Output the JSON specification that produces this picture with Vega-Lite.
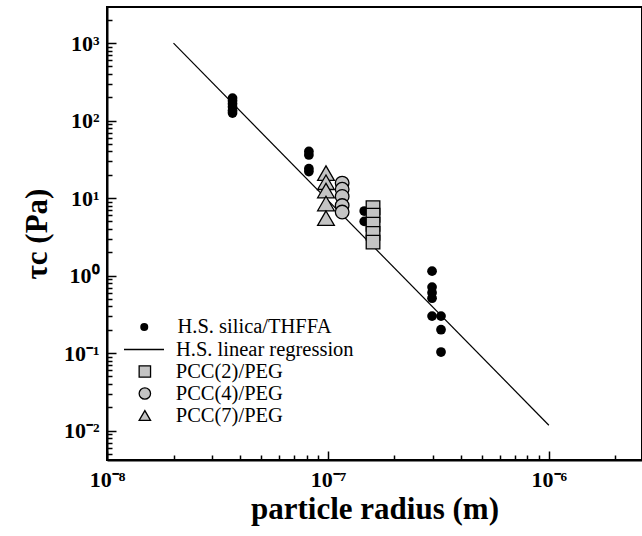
{
  "$schema": "https://vega.github.io/schema/vega-lite/v6.json",
  "width": 535,
  "height": 453,
  "autosize": {"type": "none"},
  "padding": {"left": 107, "top": 7, "right": 0, "bottom": 76},
  "background": "white",
  "config": {
    "view": {"stroke": "black", "strokeWidth": 2},
    "font": "Liberation Serif",
    "axis": {
      "grid": false,
      "domainColor": "black",
      "domainWidth": 2,
      "tickColor": "black",
      "tickWidth": 1.5,
      "labelFont": "Liberation Serif",
      "labelFontSize": 22,
      "labelFontWeight": "bold",
      "labelColor": "black",
      "titleFont": "Liberation Serif",
      "titleFontWeight": "bold",
      "titleColor": "black",
      "titleFontSize": 31,
      "labelOverlap": false,
      "labelFlush": false,
      "labelBound": false
    },
    "legend": {
      "orient": "none",
      "padding": 0,
      "labelFont": "Liberation Serif",
      "labelFontSize": 20.5,
      "labelFontWeight": "normal",
      "labelColor": "black",
      "labelLimit": 400,
      "rowPadding": 1
    }
  },
  "datasets": {
    "reg": [
      {"r": 2e-8, "tau": 1000, "line": "H.S. linear regression"},
      {"r": 1e-6, "tau": 0.0117, "line": "H.S. linear regression"}
    ],
    "silica": [
      {"r": 3.7e-8, "tau": 195, "s": "H.S. silica/THFFA"},
      {"r": 3.7e-8, "tau": 180, "s": "H.S. silica/THFFA"},
      {"r": 3.7e-8, "tau": 165, "s": "H.S. silica/THFFA"},
      {"r": 3.7e-8, "tau": 150, "s": "H.S. silica/THFFA"},
      {"r": 3.7e-8, "tau": 135, "s": "H.S. silica/THFFA"},
      {"r": 3.7e-8, "tau": 125, "s": "H.S. silica/THFFA"},
      {"r": 8.2e-8, "tau": 40, "s": "H.S. silica/THFFA"},
      {"r": 8.2e-8, "tau": 36, "s": "H.S. silica/THFFA"},
      {"r": 8.2e-8, "tau": 24, "s": "H.S. silica/THFFA"},
      {"r": 8.2e-8, "tau": 22, "s": "H.S. silica/THFFA"},
      {"r": 1.46e-7, "tau": 6.8, "s": "H.S. silica/THFFA"},
      {"r": 1.46e-7, "tau": 5.0, "s": "H.S. silica/THFFA"},
      {"r": 2.96e-7, "tau": 1.14, "s": "H.S. silica/THFFA"},
      {"r": 2.96e-7, "tau": 0.71, "s": "H.S. silica/THFFA"},
      {"r": 2.96e-7, "tau": 0.6, "s": "H.S. silica/THFFA"},
      {"r": 2.96e-7, "tau": 0.51, "s": "H.S. silica/THFFA"},
      {"r": 2.96e-7, "tau": 0.3, "s": "H.S. silica/THFFA"},
      {"r": 3.25e-7, "tau": 0.3, "s": "H.S. silica/THFFA"},
      {"r": 3.25e-7, "tau": 0.2, "s": "H.S. silica/THFFA"},
      {"r": 3.25e-7, "tau": 0.103, "s": "H.S. silica/THFFA"}
    ],
    "pcc": [
      {"r": 1.6e-7, "tau": 7.5, "p": "PCC(2)/PEG"},
      {"r": 1.6e-7, "tau": 6.0, "p": "PCC(2)/PEG"},
      {"r": 1.6e-7, "tau": 4.6, "p": "PCC(2)/PEG"},
      {"r": 1.6e-7, "tau": 3.5, "p": "PCC(2)/PEG"},
      {"r": 1.6e-7, "tau": 2.7, "p": "PCC(2)/PEG"},
      {"r": 1.16e-7, "tau": 15.6, "p": "PCC(4)/PEG"},
      {"r": 1.16e-7, "tau": 13, "p": "PCC(4)/PEG"},
      {"r": 1.16e-7, "tau": 10.5, "p": "PCC(4)/PEG"},
      {"r": 1.16e-7, "tau": 8, "p": "PCC(4)/PEG"},
      {"r": 1.16e-7, "tau": 6.6, "p": "PCC(4)/PEG"},
      {"r": 9.8e-8, "tau": 21, "p": "PCC(7)/PEG"},
      {"r": 9.8e-8, "tau": 16, "p": "PCC(7)/PEG"},
      {"r": 9.8e-8, "tau": 12.5, "p": "PCC(7)/PEG"},
      {"r": 9.8e-8, "tau": 8.5, "p": "PCC(7)/PEG"},
      {"r": 9.8e-8, "tau": 5.5, "p": "PCC(7)/PEG"}
    ]
  },
  "layer": [
    {
      "data": {"name": "reg"},
      "mark": {"type": "line", "strokeWidth": 1.2},
      "encoding": {
        "x": {
          "field": "r", "type": "quantitative",
          "scale": {"type": "log", "domain": [1e-8, 2.64e-6], "nice": false},
          "axis": {
            "title": "particle radius (m)",
            "values": [1e-8, 2e-8, 3e-8, 4e-8, 5e-8, 6e-8, 7e-8, 8e-8, 9e-8, 1e-7, 2e-7, 3e-7, 4e-7, 5e-7, 6e-7, 7e-7, 8e-7, 9e-7, 1e-6, 2e-6],
            "labelExpr": "abs(log(datum.value)/LN10 - round(log(datum.value)/LN10)) < 0.01 ? '10' + (round(log(datum.value)/LN10) < 0 ? '⁻' : '') + substring('⁰¹²³⁴⁵⁶⁷⁸⁹', abs(round(log(datum.value)/LN10)), abs(round(log(datum.value)/LN10)) + 1) : ''",
            "tickSize": {"condition": {"test": "abs(log(datum.value)/LN10 - round(log(datum.value)/LN10)) < 0.01", "value": -9}, "value": -5},
            "labelPadding": 18,
            "titlePadding": 0
          }
        },
        "y": {
          "field": "tau", "type": "quantitative",
          "scale": {"type": "log", "domain": [0.00417, 2920], "nice": false},
          "axis": {
            "title": "τc (Pa)",
            "values": [0.005, 0.006, 0.007, 0.008, 0.009, 0.01, 0.02, 0.03, 0.04, 0.05, 0.06, 0.07, 0.08, 0.09, 0.1, 0.2, 0.3, 0.4, 0.5, 0.6, 0.7, 0.8, 0.9, 1, 2, 3, 4, 5, 6, 7, 8, 9, 10, 20, 30, 40, 50, 60, 70, 80, 90, 100, 200, 300, 400, 500, 600, 700, 800, 900, 1000, 2000],
            "labelExpr": "abs(log(datum.value)/LN10 - round(log(datum.value)/LN10)) < 0.01 ? '10' + (round(log(datum.value)/LN10) < 0 ? '⁻' : '') + substring('⁰¹²³⁴⁵⁶⁷⁸⁹', abs(round(log(datum.value)/LN10)), abs(round(log(datum.value)/LN10)) + 1) : ''",
            "tickSize": {"condition": {"test": "abs(log(datum.value)/LN10 - round(log(datum.value)/LN10)) < 0.01", "value": -9}, "value": -5},
            "labelPadding": 17,
            "titlePadding": 10
          }
        },
        "stroke": {
          "field": "line", "type": "nominal",
          "scale": {"range": ["black"]},
          "legend": {
            "title": null,
            "symbolType": "stroke",
            "symbolSize": 1600,
            "symbolStrokeWidth": 1.3,
            "legendX": 16,
            "legendY": 321.5,
            "labelOffset": 11
          }
        }
      }
    },
    {
      "data": {"name": "silica"},
      "mark": {"type": "circle", "size": 95, "opacity": 1, "strokeWidth": 0},
      "encoding": {
        "x": {"field": "r", "type": "quantitative"},
        "y": {"field": "tau", "type": "quantitative"},
        "fill": {
          "field": "s", "type": "nominal",
          "scale": {"range": ["black"]},
          "legend": {
            "title": null,
            "symbolType": "circle",
            "symbolSize": 64,
            "symbolStrokeWidth": 0,
            "symbolOpacity": 1,
            "legendX": 27,
            "legendY": 309.75,
            "labelOffset": 23
          }
        }
      }
    },
    {
      "data": {"name": "pcc"},
      "transform": [{"filter": "datum.p === 'PCC(2)/PEG'"}],
      "mark": {"type": "point", "filled": false, "fill": "#c4c4c4", "fillOpacity": 1, "stroke": "black", "strokeWidth": 1.3, "opacity": 1, "size": 185},
      "encoding": {
        "x": {"field": "r", "type": "quantitative"},
        "y": {"field": "tau", "type": "quantitative"},
        "shape": {
          "field": "p", "type": "nominal",
          "scale": {"domain": ["PCC(2)/PEG", "PCC(4)/PEG", "PCC(7)/PEG"], "range": ["square", "circle", "triangle-up"]},
          "legend": {
            "title": null,
            "symbolSize": 130,
            "symbolStrokeWidth": 1.3,
            "symbolOpacity": 1,
            "legendX": 27.6,
            "legendY": 354.25,
            "labelOffset": 20.7
          }
        }
      }
    },
    {
      "data": {"name": "pcc"},
      "transform": [{"filter": "datum.p === 'PCC(4)/PEG'"}],
      "mark": {"type": "point", "filled": false, "fill": "#c4c4c4", "fillOpacity": 1, "stroke": "black", "strokeWidth": 1.3, "opacity": 1, "size": 185},
      "encoding": {
        "x": {"field": "r", "type": "quantitative"},
        "y": {"field": "tau", "type": "quantitative"},
        "shape": {"field": "p", "type": "nominal"}
      }
    },
    {
      "data": {"name": "pcc"},
      "transform": [{"filter": "datum.p === 'PCC(7)/PEG'"}],
      "mark": {"type": "point", "filled": false, "fill": "#c4c4c4", "fillOpacity": 1, "stroke": "black", "strokeWidth": 1.3, "opacity": 1, "size": 280},
      "encoding": {
        "x": {"field": "r", "type": "quantitative"},
        "y": {"field": "tau", "type": "quantitative"},
        "shape": {"field": "p", "type": "nominal"}
      }
    }
  ]
}
